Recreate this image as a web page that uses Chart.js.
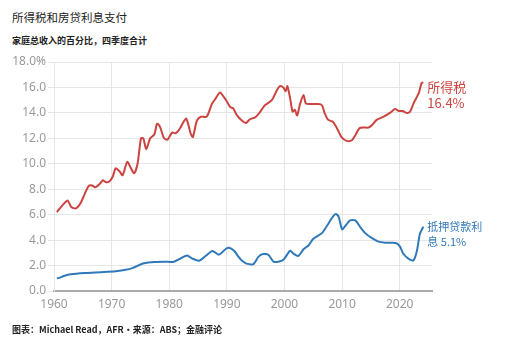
<!DOCTYPE html>
<html>
<head>
<meta charset="utf-8">
<script src="https://cdn.jsdelivr.net/npm/chart.js@4.4.0/dist/chart.umd.min.js"></script>
<style>
  body { margin: 0; background: #fff; font-family: "Noto Sans", "Noto Sans CJK SC", sans-serif; }
  .wrap { position: relative; width: 523px; height: 352px; }
  canvas { position: absolute; left: 0; top: 0; }
  .title { position: absolute; left: 12px; top: 9px; font-size: 11.5px; color: #222; font-family: "Noto Sans CJK SC", sans-serif; }
  .sub { position: absolute; left: 12px; top: 34px; font-size: 9px; font-weight: bold; color: #222; font-family: "Noto Sans CJK SC", sans-serif; }
  .foot { position: absolute; left: 12px; top: 323px; font-size: 9px; font-weight: bold; color: #222; font-family: "Noto Sans CJK SC", sans-serif; }
</style>
</head>
<body>
<div class="wrap">
  <div class="title">所得税和房贷利息支付</div>
  <div class="sub">家庭总收入的百分比，四季度合计</div>
  <canvas id="chart" width="523" height="352"></canvas>
  <div class="foot">图表：Michael Read，AFR・来源：ABS；金融评论</div>
</div>
<script>
const taxYears = [1960.5, 1961.2, 1962.0, 1962.4, 1963.0, 1963.8, 1964.6, 1965.3, 1966.0, 1966.6,
  1967.2, 1968.0, 1968.5, 1969.0, 1969.6, 1970.2, 1970.7, 1971.3, 1971.9, 1972.7,
  1973.3, 1973.9, 1974.5, 1975.1, 1975.5, 1976.0, 1976.7, 1977.4, 1977.9, 1978.4,
  1979.1, 1979.7, 1980.5, 1981.1, 1981.6, 1982.0, 1982.9, 1983.3, 1983.7, 1984.1,
  1984.8, 1985.5, 1986.5, 1987.4, 1988.0, 1988.8, 1989.4, 1990.0, 1990.6, 1991.1,
  1991.7, 1992.6, 1993.3, 1994.0, 1994.9, 1995.8, 1996.6, 1997.8, 1998.7, 1999.2,
  1999.8, 2000.2, 2000.5, 2001.0, 2001.4, 2001.8, 2002.2, 2002.7, 2003.3, 2003.7,
  2004.4, 2005.9, 2006.5, 2007.0, 2007.6, 2008.4, 2009.1, 2009.9, 2010.8, 2011.7,
  2012.3, 2013.0, 2013.7, 2014.6, 2015.2, 2016.0, 2017.2, 2018.3, 2019.2, 2019.8,
  2020.5, 2021.2, 2021.8, 2022.4, 2023.3, 2023.8, 2024.1];
const taxValues = [6.2, 6.6, 7.0, 7.1, 6.6, 6.5, 6.9, 7.6, 8.25, 8.3,
  8.15, 8.45, 8.7, 8.55, 8.6, 9.0, 9.65, 9.45, 9.1, 10.15,
  9.7, 9.25, 10.0, 12.0, 12.0, 11.15, 12.0, 12.3, 13.15, 12.9,
  12.0, 11.9, 12.45, 12.4, 12.6, 12.9, 13.55, 13.1, 12.4, 12.1,
  13.4, 13.7, 13.7, 14.7, 15.1, 15.6, 15.3, 14.9, 14.45, 14.35,
  13.85, 13.4, 13.2, 13.5, 13.65, 14.1, 14.6, 15.0, 15.8, 16.1,
  16.0, 15.7, 16.1, 15.1, 14.1, 14.25, 13.8, 14.7, 15.4, 14.75,
  14.7, 14.7, 14.6, 13.95, 13.45, 13.3, 12.8, 12.1, 11.8, 11.85,
  12.25, 12.8, 12.85, 12.85, 13.05, 13.45, 13.7, 14.0, 14.3, 14.15,
  14.15, 14.0, 14.1, 14.75, 15.55, 16.35, 16.4];

const mortYears = [1960.5, 1961.0, 1961.7, 1962.9, 1965.5, 1968.1, 1970.7, 1972.2, 1973.6, 1974.6,
  1975.6, 1977.4, 1979.1, 1980.8, 1982.0, 1983.1, 1984.0, 1985.2, 1986.3, 1987.5,
  1988.6, 1989.8, 1990.4, 1991.3, 1992.0, 1992.7, 1993.4, 1994.6, 1995.5, 1996.3,
  1997.2, 1998.1, 1998.9, 1999.8, 2001.0, 2001.5, 2002.4, 2003.3, 2004.2, 2005.0,
  2006.5, 2007.4, 2008.4, 2008.9, 2009.4, 2010.0, 2010.7, 2011.4, 2012.3, 2013.1,
  2014.0, 2015.2, 2016.3, 2017.5, 2018.6, 2019.5, 2020.1, 2020.6, 2021.5, 2022.4,
  2023.0, 2023.5, 2024.1];
const mortValues = [1.0, 1.05, 1.18, 1.32, 1.42, 1.48, 1.55, 1.65, 1.8, 2.0,
  2.18, 2.28, 2.3, 2.3, 2.57, 2.8, 2.55, 2.38, 2.75, 3.15,
  2.85, 3.3, 3.4, 3.15, 2.7, 2.35, 2.15, 2.12, 2.7, 2.9,
  2.85, 2.3, 2.3, 2.45, 3.17, 2.96, 2.75, 3.28, 3.6, 4.1,
  4.55, 5.15, 5.85, 6.05, 5.85, 4.85, 5.2, 5.55, 5.55, 5.05,
  4.55, 4.15, 3.88, 3.8, 3.8, 3.75, 3.45, 2.95, 2.55, 2.42,
  3.2, 4.5, 5.05];

const yTicks = [0, 2, 4, 6, 8, 10, 12, 14, 16, 18];
const xTicks = [1960, 1970, 1980, 1990, 2000, 2010, 2020];
const endLabels = [['所得税', '16.4%'], ['抵押贷款利', '息 5.1%']];

const RED = '#cc4440';
const BLUE = '#3079b9';

const toPoints = (xs, ys) => xs.map((x, i) => ({ x: x, y: ys[i] }));

// draw the end-of-line labels next to the last point of each series
const endLabelPlugin = {
  id: 'endLabels',
  afterDatasetsDraw(chart) {
    const ctx = chart.ctx;
    const styles = [
      { color: RED, size: 13, gap: 16, dy: 5 },
      { color: BLUE, size: 11, gap: 15, dy: 0 }
    ];
    chart.data.datasets.forEach((ds, i) => {
      const meta = chart.getDatasetMeta(i);
      const last = meta.data[meta.data.length - 1];
      const s = styles[i];
      ctx.save();
      ctx.fillStyle = s.color;
      ctx.font = s.size + 'px "Noto Sans CJK SC", "Noto Sans", sans-serif';
      ctx.textBaseline = 'middle';
      ctx.textAlign = 'left';
      endLabels[i].forEach((line, j) => {
        ctx.fillText(line, last.x + 4, last.y + s.dy + j * s.gap);
      });
      ctx.restore();
    });
  }
};

new Chart(document.getElementById('chart'), {
  type: 'line',
  data: {
    datasets: [
      {
        label: '所得税',
        data: toPoints(taxYears, taxValues),
        borderColor: RED,
        borderWidth: 2,
        pointRadius: 0,
        tension: 0.25
      },
      {
        label: '抵押贷款利息',
        data: toPoints(mortYears, mortValues),
        borderColor: BLUE,
        borderWidth: 2,
        pointRadius: 0,
        tension: 0.25
      }
    ]
  },
  options: {
    responsive: false,
    animation: false,
    layout: { padding: { left: 0, top: 62, right: 91, bottom: 41 } },
    plugins: {
      legend: { display: false },
      tooltip: { enabled: false }
    },
    scales: {
      x: {
        type: 'linear',
        min: 1960,
        max: 2025.6,
        afterFit: (s) => { s.height = 20; },
        afterBuildTicks: (s) => { s.ticks = xTicks.map(v => ({ value: v })); },
        ticks: {
          color: '#999',
          font: { size: 12, family: '"Noto Sans", sans-serif' },
          padding: 6,
          maxRotation: 0,
          callback: (v) => String(v)
        },
        grid: { color: '#e6e6e6', drawTicks: false },
        border: { color: '#aaa', width: 2 }
      },
      y: {
        min: 0,
        max: 18,
        afterFit: (s) => { s.width = 54; },
        afterBuildTicks: (s) => { s.ticks = yTicks.map(v => ({ value: v })); },
        ticks: {
          color: '#999',
          font: { size: 12, family: '"Noto Sans", sans-serif' },
          padding: 2,
          callback: (v) => v === 18 ? '18.0%' : v.toFixed(1)
        },
        grid: { color: '#e6e6e6', tickLength: 6 },
        border: { color: '#e6e6e6' }
      }
    }
  },
  plugins: [endLabelPlugin]
});
</script>
</body>
</html>
